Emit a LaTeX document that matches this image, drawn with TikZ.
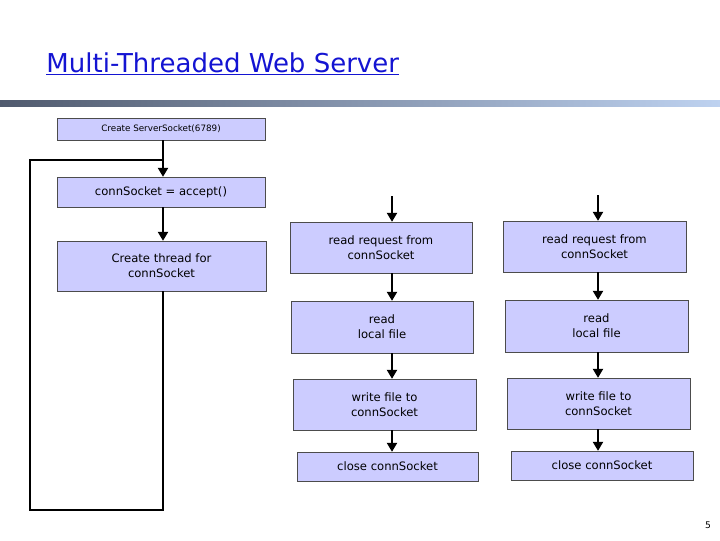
\documentclass[tikz,border=0pt]{standalone}
\usepackage{fontspec}
\setmainfont{DejaVu Sans}
\usetikzlibrary{arrows.meta}
\definecolor{boxfill}{RGB}{204,204,255}
\definecolor{titleblue}{RGB}{20,20,210}
\definecolor{barleft}{RGB}{80,90,110}
\definecolor{barright}{RGB}{190,210,240}
\tikzset{%
  >={Triangle[width=5mm,length=4.5mm]},
  % Specifications for style of nodes:
       base/.style = {rectangle, draw=black!70, fill=boxfill, thin,
                      text centered, align=center, inner sep=0pt},
      small/.style = {base, font=\fontsize{12.5}{14}\selectfont},
      stage/.style = {base, font=\fontsize{16.5}{21}\selectfont},
       flow/.style = {->, line width=3pt},
       loop/.style = {line width=3pt},
}
\begin{document}
\begin{tikzpicture}[x=0.05cm, y=-0.05cm]
  \useasboundingbox (0,0) rectangle (720,540);
  % title and bar
  \node (title) [anchor=west, text=titleblue, font=\fontsize{37}{40}\selectfont]
      at (44,64) {\underline{Multi-Threaded Web Server}};
  \shade[left color=barleft, right color=barright] (0,100) rectangle (720,106);
  \node (page) at (708,525) {\fontsize{13}{15}\selectfont 5};

  % Specification of nodes (position, etc.)
  \node (server) [small, minimum width=208*0.05cm, minimum height=22*0.05cm]
      at (161,129) {Create ServerSocket(6789)};
  \node (accept) [stage, minimum width=208*0.05cm, minimum height=30*0.05cm]
      at (161,192) {connSocket = accept()};
  \node (thread) [stage, minimum width=209*0.05cm, minimum height=50*0.05cm]
      at (161.5,266) {Create thread for\\connSocket};

  \node (reqA)   [stage, minimum width=182*0.05cm, minimum height=51*0.05cm] at (381,247.5) {read request from\\connSocket};
  \node (readA)  [stage, minimum width=182*0.05cm, minimum height=52*0.05cm] at (382,327)   {read\\local file};
  \node (writeA) [stage, minimum width=183*0.05cm, minimum height=51*0.05cm] at (384.5,404.5) {write file to\\connSocket};
  \node (closeA) [stage, minimum width=181*0.05cm, minimum height=29*0.05cm] at (387.5,466.5) {close connSocket};

  \node (reqB)   [stage, minimum width=183*0.05cm, minimum height=51*0.05cm] at (594.5,246.5) {read request from\\connSocket};
  \node (readB)  [stage, minimum width=183*0.05cm, minimum height=52*0.05cm] at (596.5,326)   {read\\local file};
  \node (writeB) [stage, minimum width=183*0.05cm, minimum height=51*0.05cm] at (598.5,403.5) {write file to\\connSocket};
  \node (closeB) [stage, minimum width=182*0.05cm, minimum height=29*0.05cm] at (602,465.5) {close connSocket};

  \coordinate (colL) at (163,0);
  \coordinate (colA) at (392,0);
  \coordinate (colB) at (598,0);
  \coordinate (inA) at (392,196);
  \coordinate (inB) at (598,195);
  \coordinate (loopBot) at (163,510);
  \coordinate (loopTop) at (30,160);
  \coordinate (loopIn) at (163,160);

  % Specification of lines between nodes specified above
  \draw[flow] (server.south -| colL) -- (accept.north -| colL);
  \draw[loop] (thread.south -| colL) -- (loopBot) -| (loopTop) -- (loopIn);
  \draw[flow] (accept.south -| colL) -- (thread.north -| colL);
  \draw[flow] (inA) -- (reqA.north -| colA);
  \draw[flow] (reqA.south -| colA) -- (readA.north -| colA);
  \draw[flow] (readA.south -| colA) -- (writeA.north -| colA);
  \draw[flow] (writeA.south -| colA) -- (closeA.north -| colA);
  \draw[flow] (inB) -- (reqB.north -| colB);
  \draw[flow] (reqB.south -| colB) -- (readB.north -| colB);
  \draw[flow] (readB.south -| colB) -- (writeB.north -| colB);
  \draw[flow] (writeB.south -| colB) -- (closeB.north -| colB);
\end{tikzpicture}
\end{document}
